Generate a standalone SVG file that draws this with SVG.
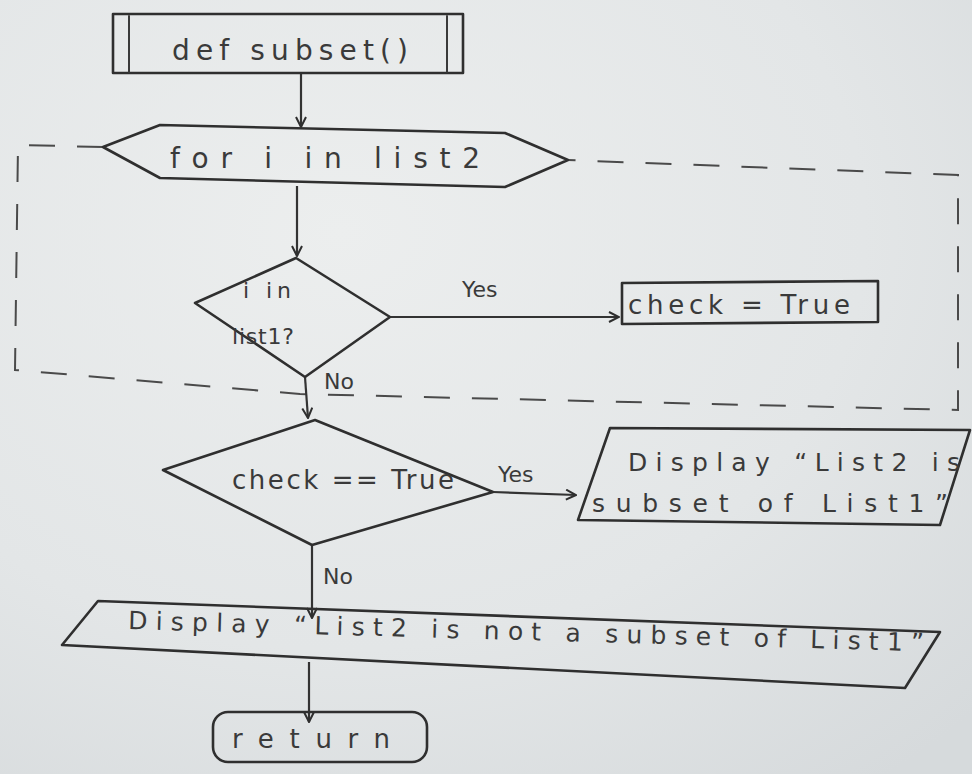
<svg xmlns="http://www.w3.org/2000/svg" width="972" height="774" viewBox="0 0 972 774">
  <defs>
    <radialGradient id="paper" cx="0.35" cy="0.3" r="0.9">
      <stop offset="0" stop-color="#eceeee"/>
      <stop offset="0.6" stop-color="#e3e6e7"/>
      <stop offset="1" stop-color="#d6dadc"/>
    </radialGradient>
    <marker id="arrow" viewBox="0 0 12 12" refX="11" refY="6" markerWidth="12" markerHeight="12" markerUnits="userSpaceOnUse" orient="auto">
      <path d="M1,1 L11,6 L1,11" fill="none" stroke="#2e2e2e" stroke-width="2"/>
    </marker>
  </defs>
  <style>
    .shape { fill: none; stroke: #2f2f2f; stroke-width: 2.6; stroke-linejoin: round; stroke-linecap: round; }
    .thin { fill: none; stroke: #3a3a3a; stroke-width: 2; stroke-linecap: round; }
    .loop { fill: none; stroke: #4a4a4a; stroke-width: 2; stroke-dasharray: 26 22; }
    .edge { fill: none; stroke: #333; stroke-width: 2.2; marker-end: url(#arrow); }
    text { font-family: "DejaVu Sans", "Liberation Sans", sans-serif; fill: #3a3a3a; }
    .lbl { font-size: 22px; }
    .big { font-size: 28px; }
    .mid { font-size: 26px; }
    .txt { font-size: 25px; }
  </style>

  <rect width="972" height="774" fill="url(#paper)"/>

  <!-- loop boundary around the for-loop body -->
  <g id="loop-boundary">
    <path class="loop" d="M103,147 L18,145 L15,370 L300,394 L958,410 L958,175 L568,160"/>
  </g>

  <g id="connectors">
    <path class="edge" d="M301,74 L301,127"/>
    <path class="edge" d="M297,186 L297,256"/>
    <path class="edge" d="M390,317 L619,317"/>
    <path class="edge" d="M305,377 L308,418"/>
    <path class="edge" d="M493,492 L576,495"/>
    <path class="edge" d="M312,545 L312,618"/>
    <path class="edge" d="M309,662 L309,722"/>
    <text class="lbl" x="462" y="297">Yes</text>
    <text class="lbl" x="324" y="389">No</text>
    <text class="lbl" x="498" y="482">Yes</text>
    <text class="lbl" x="323" y="584">No</text>
  </g>

  <g id="start">
    <path class="shape" d="M113,14 L463,14 L463,73 L113,73 Z"/>
    <path class="thin" d="M129,16 L129,72 M447,16 L447,72"/>
    <text class="big" x="172" y="60" textLength="236" lengthAdjust="spacing">def subset()</text>
  </g>

  <g id="for-loop">
    <path class="shape" d="M103,147 L160,125 L505,133 L568,160 L505,187 L160,178 Z"/>
    <text class="big" x="170" y="168" textLength="310" lengthAdjust="spacing">for  i  in  list2</text>
  </g>

  <g id="in-list1">
    <path class="shape" d="M296,258 L390,317 L305,377 L195,303 Z"/>
    <text class="lbl" x="243" y="298" textLength="48" lengthAdjust="spacing">i in</text>
    <text class="lbl" x="232" y="344" textLength="62" lengthAdjust="spacing">list1?</text>
  </g>

  <g id="set-check">
    <path class="shape" d="M622,283 L878,281 L878,322 L622,324 Z"/>
    <text class="mid" x="628" y="314" textLength="222" lengthAdjust="spacing">check = True</text>
  </g>

  <g id="check-true">
    <path class="shape" d="M315,420 L493,492 L312,545 L163,470 Z"/>
    <text class="mid" x="232" y="489" textLength="222" lengthAdjust="spacing">check == True</text>
  </g>

  <g id="is-subset">
    <path class="shape" d="M610,428 L970,430 L940,525 L578,520 Z"/>
    <text class="txt" x="628" y="471" textLength="332" lengthAdjust="spacing">Display “List2 is</text>
    <text class="txt" x="592" y="512" textLength="356" lengthAdjust="spacing">subset of List1”</text>
  </g>

  <g id="not-subset">
    <path class="shape" d="M98,601 L940,632 L905,688 L62,645 Z"/>
    <text class="txt" x="128" y="629" textLength="796" lengthAdjust="spacing" transform="rotate(1.6 128 629)">Display “List2 is not a subset of List1”</text>
  </g>

  <g id="end">
    <rect class="shape" x="213" y="712" width="214" height="50" rx="15" ry="15"/>
    <text class="mid" x="232" y="748" textLength="158" lengthAdjust="spacing">return</text>
  </g>
</svg>
